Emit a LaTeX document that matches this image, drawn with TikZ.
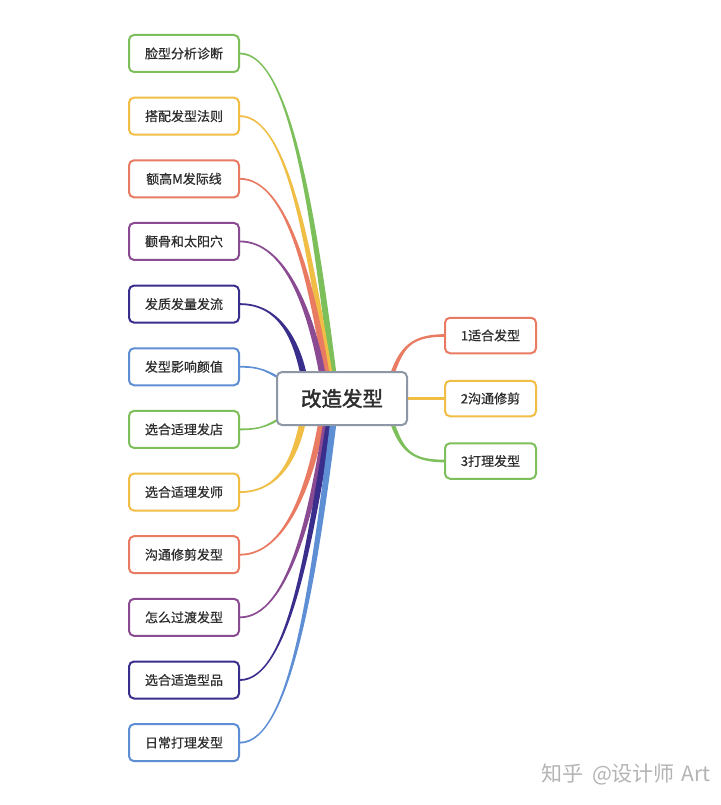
\documentclass[tikz,border=0pt]{standalone}
\usepackage{fontspec}
\setmainfont{Noto Sans CJK SC}
\newfontfamily\leaffont[FakeBold=0.6]{Noto Sans CJK SC}
\newfontfamily\hubfont[FakeBold=2]{Noto Sans CJK SC}
\usetikzlibrary{calc}
\pgfdeclarelayer{bg}
\pgfsetlayers{bg,main}
\definecolor{cg}{HTML}{7DBF5B}
\definecolor{cy}{HTML}{F0BD45}
\definecolor{cr}{HTML}{E97B62}
\definecolor{cp}{HTML}{8B4B92}
\definecolor{cn}{HTML}{3A2E8C}
\definecolor{cb}{HTML}{5E8ED4}
\definecolor{cc}{HTML}{8D97A5}
\definecolor{tx}{HTML}{2E2E2E}
\definecolor{wm}{HTML}{B4B4B4}
% tapered links: #1 leaf, #2 colour, #3 point, #4 h, #5 dx, #6 dy, #7 half width
\newcommand\tlinktop[7]{%
  \fill[#2] ([yshift=0.9pt]#1.east) .. controls +(#4,0) and +(#5,#6) .. ([xshift=#7]#3)
    -- ([xshift=#7]C.center) -- ([xshift=-#7]C.center) -- ([xshift=-#7]#3)
    .. controls +(#5,#6) and +(#4,0) .. ([yshift=-0.9pt]#1.east) -- cycle;}
\newcommand\tlinkbot[7]{%
  \fill[#2] ([yshift=0.9pt]#1.east) .. controls +(#4,0) and +(#5,#6) .. ([xshift=-#7]#3)
    -- ([xshift=-#7]C.center) -- ([xshift=#7]C.center) -- ([xshift=#7]#3)
    .. controls +(#5,#6) and +(#4,0) .. ([yshift=-0.9pt]#1.east) -- cycle;}
\tikzset{
  leaf/.style={draw=#1, line width=2pt, rounded corners=5pt, fill=white,
    minimum width=110pt, minimum height=37pt, inner sep=0pt, text=tx,
    font=\leaffont\fontsize{13}{15}\selectfont},
  rleaf/.style={leaf=#1, minimum width=91pt, minimum height=35.5pt},
  hub/.style={draw=cc, line width=2pt, rounded corners=5pt, fill=white,
    minimum width=130pt, minimum height=53pt, inner sep=0pt, text=tx,
    font=\hubfont\fontsize{20.5}{23}\selectfont}
}
\begin{document}
\begin{tikzpicture}[x=1pt,y=-1pt]
\useasboundingbox (0,0) rectangle (720,805);

\node[hub] (C) at (342,398.5) {改造发型};

\node[leaf=cg] (L1) at (184,53.5) {脸型分析诊断};
\node[leaf=cy] (L2) at (184,116.15) {搭配发型法则};
\node[leaf=cr] (L3) at (184,178.8) {额高M发际线};
\node[leaf=cp] (L4) at (184,241.45) {颧骨和太阳穴};
\node[leaf=cn] (L5) at (184,304.1) {发质发量发流};
\node[leaf=cb] (L6) at (184,366.75) {发型影响颜值};
\node[leaf=cg] (L7) at (184,429.4) {选合适理发店};
\node[leaf=cy] (L8) at (184,492.05) {选合适理发师};
\node[leaf=cr] (L9) at (184,554.7) {沟通修剪发型};
\node[leaf=cp] (L10) at (184,617.35) {怎么过渡发型};
\node[leaf=cn] (L11) at (184,680) {选合适造型品};
\node[leaf=cb] (L12) at (184,742.65) {日常打理发型};

\node[rleaf=cr] (R1) at (490.5,335.5) {1适合发型};
\node[rleaf=cy] (R2) at (490.5,398.5) {2沟通修剪};
\node[rleaf=cg] (R3) at (490.5,461) {3打理发型};

\node[text=wm, anchor=east, font=\fontsize{21}{23}\selectfont] (W) at (714,774) {知乎\hspace{4pt} @设计师\hspace{2pt} Art};

\coordinate (p1) at (333,372);
\coordinate (p2) at (329,372);
\coordinate (p3) at (326,372);
\coordinate (p4) at (322,372);
\coordinate (p5) at (303,372);
\coordinate (p6) at (281,379);
\coordinate (p7) at (281,418);
\coordinate (p8) at (302,425);
\coordinate (p9) at (321,425);
\coordinate (p10) at (326,425);
\coordinate (p11) at (329,425);
\coordinate (p12) at (333,425);
\coordinate (q1) at (393,372);
\coordinate (q3) at (393,425);

\begin{pgfonlayer}{bg}
\fill[white] (0,0) rectangle (720,805);
\tlinktop{L1}{cg}{p1}{52}{-18}{-143}{3.2pt}
\tlinktop{L2}{cy}{p2}{49}{-19}{-115}{3.2pt}
\tlinktop{L3}{cr}{p3}{48}{-14}{-87}{3.2pt}
\tlinktop{L4}{cp}{p4}{46}{-11}{-59}{3.2pt}
\tlinktop{L5}{cn}{p5}{40}{-7}{-31}{3.2pt}
\tlinktop{L6}{cb}{p6}{20}{-14}{-8}{2.4pt}
\tlinkbot{L7}{cg}{p7}{20}{-14}{8}{2.4pt}
\tlinkbot{L8}{cy}{p8}{40}{-7}{31}{3.2pt}
\tlinkbot{L9}{cr}{p9}{46}{-11}{59}{3.2pt}
\tlinkbot{L10}{cp}{p10}{48}{-14}{87}{3.2pt}
\tlinkbot{L11}{cn}{p11}{49}{-19}{115}{3.2pt}
\tlinkbot{L12}{cb}{p12}{52}{-18}{143}{3.2pt}
% right side
\fill[cr] ([xshift=-2.2pt]q1) .. controls +(9,-24) and +(-33,0) .. ([yshift=1.3pt]R1.west)
  -- ([yshift=-1.3pt]R1.west) .. controls +(-33,0) and +(9,-24) .. ([xshift=2.2pt]q1)
  -- ([xshift=2.2pt]C.center) -- ([xshift=-2.2pt]C.center) -- cycle;
\fill[cg] ([xshift=2.2pt]q3) .. controls +(9,24) and +(-33,0) .. ([yshift=1.3pt]R3.west)
  -- ([yshift=-1.3pt]R3.west) .. controls +(-33,0) and +(9,24) .. ([xshift=-2.2pt]q3)
  -- ([xshift=-2.2pt]C.center) -- ([xshift=2.2pt]C.center) -- cycle;
\draw[cy, line width=3pt] (C) -- (R2);
\end{pgfonlayer}
\end{tikzpicture}
\end{document}
